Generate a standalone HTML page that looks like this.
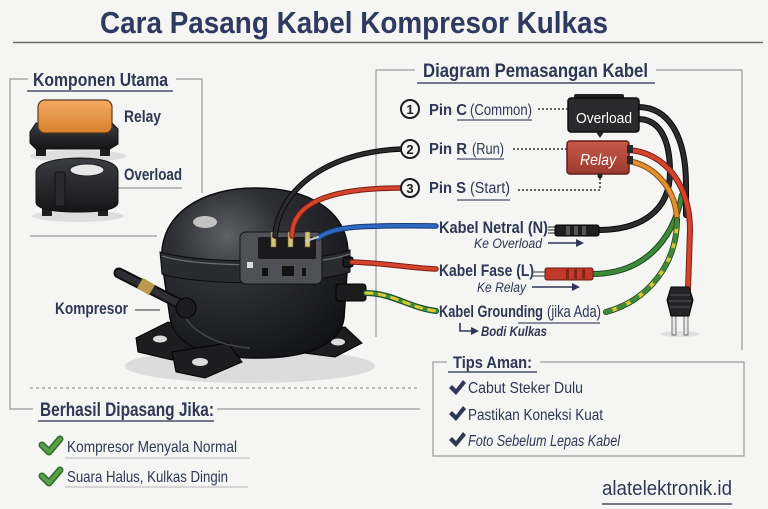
<!DOCTYPE html>
<html><head><meta charset="utf-8">
<style>
html,body{margin:0;padding:0;background:#f5f5f3;}
svg{display:block;}
text{font-family:"Liberation Sans",sans-serif;fill:#2e3754;}
.b{font-weight:bold;}
.i{font-style:italic;}
</style></head><body>
<svg width="768" height="509" viewBox="0 0 768 509" xmlns="http://www.w3.org/2000/svg">
<defs>
<radialGradient id="bodyG" cx="0.35" cy="0.28" r="0.85">
<stop offset="0" stop-color="#5e6066"/><stop offset="0.35" stop-color="#2e2f33"/><stop offset="1" stop-color="#101113"/>
</radialGradient>
<linearGradient id="orG" x1="0" y1="0" x2="0" y2="1"><stop offset="0" stop-color="#f3ac62"/><stop offset="1" stop-color="#d9802c"/></linearGradient>
<linearGradient id="rlG" x1="0" y1="0" x2="0" y2="1"><stop offset="0" stop-color="#c9594a"/><stop offset="1" stop-color="#9c3a2f"/></linearGradient>
<linearGradient id="blkG" x1="0" y1="0" x2="0" y2="1"><stop offset="0" stop-color="#3c3d41"/><stop offset="1" stop-color="#151517"/></linearGradient>
</defs>
<rect width="768" height="509" fill="#f5f5f3"/>

<!-- Title -->
<text x="100" y="33" font-size="31" class="b" textLength="508" lengthAdjust="spacingAndGlyphs" style="fill:#2e3a60">Cara Pasang Kabel Kompresor Kulkas</text>
<path d="M13,42.5 H763" stroke="#6a6a6a" stroke-width="1.6" fill="none"/>

<!-- frame lines -->
<g stroke="#9a9a9a" stroke-width="1.2" fill="none">
<path d="M28,79 H10 V409 H33"/>
<path d="M176,79 H202 V193"/>
<path d="M30,236 H157"/>
<path d="M135,310 H160" stroke="#555"/>
<path d="M30,388 H420" stroke-dasharray="3,3"/>
<path d="M217,409 H420"/>
<path d="M415,70 H376 V337"/>
<path d="M656,70 H742 V350"/>
<path d="M447,362 H433 V456 H744 V362 H540"/>
<path d="M118,188 H182"/>
<path d="M65,458 H250" stroke="#c4c4c4"/>
<path d="M65,487 H248" stroke="#c4c4c4"/>
</g>
<g stroke="#4a5068" stroke-width="1.5" fill="none">
<path d="M27,91 H173"/>
<path d="M38,421 H214"/>
<path d="M417,83 H655"/>
<path d="M448,372 H537"/>
<path d="M602,504 H732"/>
<path d="M457,120 H532" stroke-width="1.2"/>
<path d="M457,159 H504" stroke-width="1.2"/>
<path d="M457,200 H510" stroke-width="1.2"/>
<path d="M518,323 H600" stroke-width="1.2"/>
</g>

<!-- Left box heading -->
<text x="33" y="86" font-size="18" class="b" textLength="135" lengthAdjust="spacingAndGlyphs">Komponen Utama</text>

<!-- Relay illustration -->
<ellipse cx="78" cy="156" rx="48" ry="6" fill="#dedede"/>
<rect x="36" y="142" width="10" height="14" fill="#1e1e20"/>
<rect x="100" y="142" width="10" height="14" fill="#1e1e20"/>
<path d="M30,132 L36,123 L112,123 L118,129 L118,144 L110,149 L36,149 L30,143 Z" fill="url(#blkG)" stroke="#111"/>
<rect x="38" y="100" width="74" height="33" rx="7" fill="url(#orG)" stroke="#5a3a1c" stroke-width="1.2"/>
<text x="124" y="122" font-size="17" class="b" textLength="37" lengthAdjust="spacingAndGlyphs">Relay</text>

<!-- Overload illustration -->
<ellipse cx="78" cy="216" rx="46" ry="6" fill="#dedede"/>
<rect x="42" y="200" width="10" height="16" fill="#1e1e20"/>
<rect x="98" y="200" width="10" height="16" fill="#1e1e20"/>
<path d="M36,172 C36,162 60,158 80,158 C100,158 118,162 118,172 L118,202 C118,210 100,212 78,212 C56,212 36,210 36,202 Z" fill="url(#blkG)" stroke="#111"/>
<ellipse cx="87" cy="170" rx="17" ry="6" fill="#e8e8e8" stroke="#222"/>
<rect x="55" y="172" width="10" height="34" rx="2" fill="#2a2a2c" stroke="#111"/>
<text x="124" y="180" font-size="17" class="b" textLength="58" lengthAdjust="spacingAndGlyphs">Overload</text>

<text x="55" y="314" font-size="17" class="b" textLength="73" lengthAdjust="spacingAndGlyphs">Kompresor</text>

<!-- Compressor -->
<ellipse cx="250" cy="366" rx="125" ry="17" fill="#dcdcdc"/>
<path d="M136,338 L168,322 L205,330 L208,348 L172,360 L138,352 Z" fill="#1d1d1f" stroke="#000"/>
<ellipse cx="160" cy="339" rx="7" ry="3.5" fill="#ddd"/>
<path d="M292,330 L345,327 L362,343 L335,357 L296,352 Z" fill="#1d1d1f" stroke="#000"/>
<ellipse cx="338" cy="342" rx="7" ry="3.5" fill="#ddd"/>
<path d="M162,262 C158,212 205,188 255,188 C305,188 350,208 348,258 L344,318 C340,348 300,358 258,358 C212,358 175,348 170,318 Z" fill="url(#bodyG)" stroke="#0c0c0e" stroke-width="1.5"/>
<path d="M172,352 L228,343 L242,362 L205,378 L176,372 Z" fill="#1d1d1f" stroke="#000"/>
<ellipse cx="200" cy="362" rx="8" ry="4" fill="#ddd"/>
<path d="M160,252 C200,264 310,264 350,250 L350,272 C310,286 200,286 162,274 Z" fill="#2a2b2e" stroke="#0c0c0e"/>
<path d="M162,256 C200,268 310,268 350,254" stroke="#6a6c70" stroke-width="1.2" fill="none"/>
<ellipse cx="205" cy="222" rx="12" ry="6" fill="#d8d8d8" opacity="0.85"/>
<path d="M180,300 C180,325 210,345 250,348" stroke="#55575c" stroke-width="1.5" fill="none" opacity="0.7"/>
<!-- terminal box -->
<rect x="240" y="232" width="82" height="52" rx="6" fill="#505156" stroke="#111"/>
<rect x="258" y="237" width="58" height="22" rx="2" fill="#1a1a1c"/>
<rect x="247" y="262" width="6" height="6" fill="#ddd"/>
<rect x="262" y="268" width="6" height="8" fill="#111"/>
<rect x="282" y="266" width="12" height="10" fill="#111"/>
<rect x="302" y="268" width="4" height="8" fill="#111"/>
<rect x="271" y="232" width="5" height="15" fill="#d9c27a" stroke="#6a5a2a" stroke-width="0.6"/>
<rect x="288" y="232" width="5" height="15" fill="#d9c27a" stroke="#6a5a2a" stroke-width="0.6"/>
<rect x="305" y="232" width="5" height="15" fill="#d9c27a" stroke="#6a5a2a" stroke-width="0.6"/>
<!-- tube -->
<path d="M119,273 L186,307" stroke="#0e0e10" stroke-width="11" stroke-linecap="round"/>
<path d="M119,273 L186,307" stroke="#2e2f33" stroke-width="7" stroke-linecap="round"/>
<path d="M140,283 L152,290" stroke="#b89a4a" stroke-width="12"/>
<circle cx="186" cy="308" r="10" fill="#1c1c1e" stroke="#000"/>
<!-- right nozzle -->
<rect x="336" y="284" width="30" height="17" rx="3" fill="#1c1c1e" stroke="#000"/>
<rect x="343" y="257" width="10" height="10" rx="2" fill="#1c1c1e" stroke="#000"/>

<!-- Left wires -->
<g fill="none" stroke-linecap="round">
<path d="M275,236 C278,195 320,152 402,149" stroke="#0a0a0a" stroke-width="5.5"/>
<path d="M275,236 C278,195 320,152 402,149" stroke="#2c2c2e" stroke-width="3.5"/>
<path d="M292,236 C292,205 325,188 401,188" stroke="#7a1e14" stroke-width="5.5"/>
<path d="M292,236 C292,205 325,188 401,188" stroke="#d6442e" stroke-width="3.5"/>
<path d="M318,238 C335,226 360,225 436,226" stroke="#163a7a" stroke-width="5.5"/>
<path d="M318,238 C335,226 360,225 436,226" stroke="#2f68c0" stroke-width="3.5"/>
<path d="M306,241 L318,237" stroke="#c8c8c8" stroke-width="2"/>
<path d="M352,262 C385,263 410,268 436,269" stroke="#7a1e14" stroke-width="5.5"/>
<path d="M352,262 C385,263 410,268 436,269" stroke="#d6442e" stroke-width="3.5"/>
<path d="M366,293 C392,293 410,308 436,311" stroke="#1e4a1e" stroke-width="6"/>
<path d="M366,293 C392,293 410,308 436,311" stroke="#3d8a3a" stroke-width="4"/>
<path d="M366,293 C392,293 410,308 436,311" stroke="#dcc83a" stroke-width="3" stroke-dasharray="6,7"/>
</g>

<!-- Right wires -->
<g fill="none" stroke-linecap="round">
<path d="M638,107 C668,107 686,135 686,185 L686,215" stroke="#0a0a0a" stroke-width="6"/>
<path d="M638,107 C668,107 686,135 686,185 L686,215" stroke="#2c2c2e" stroke-width="4"/>
<path d="M638,119 C660,119 670,140 670,172 C670,212 640,230 598,230" stroke="#0a0a0a" stroke-width="6"/>
<path d="M638,119 C660,119 670,140 670,172 C670,212 640,230 598,230" stroke="#2c2c2e" stroke-width="4"/>
<path d="M592,274 C640,274 672,245 682,195" stroke="#1e4a1e" stroke-width="6"/>
<path d="M592,274 C640,274 672,245 682,195" stroke="#3d8a3a" stroke-width="4"/>
<path d="M628,161 C655,165 677,190 677,222" stroke="#8a4a10" stroke-width="6"/>
<path d="M628,161 C655,165 677,190 677,222" stroke="#e0902e" stroke-width="4"/>
<path d="M677,220 C677,262 650,300 606,312" stroke="#1e4a1e" stroke-width="6"/>
<path d="M677,220 C677,262 650,300 606,312" stroke="#dcc83a" stroke-width="4"/>
<path d="M677,220 C677,262 650,300 606,312" stroke="#3d8a3a" stroke-width="4" stroke-dasharray="7,8"/>
<path d="M628,150 C665,152 690,185 690,230 L688,290" stroke="#7a1e14" stroke-width="6"/>
<path d="M628,150 C665,152 690,185 690,230 L688,290" stroke="#d6442e" stroke-width="4"/>
</g>
<!-- Netral connector -->
<g stroke="#222" stroke-width="1">
<path d="M548,227 H556 M548,230 H556 M548,233 H556" />
</g>
<rect x="555" y="225" width="44" height="11" rx="2" fill="#1e1e20" stroke="#000"/>
<rect x="566" y="226" width="4" height="9" fill="#555"/>
<rect x="574" y="226" width="4" height="9" fill="#555"/>
<rect x="582" y="226" width="4" height="9" fill="#555"/>
<!-- Fase connector -->
<path d="M533,272 H546 M533,276 H546" stroke="#777" stroke-width="1.4"/>
<rect x="545" y="268" width="48" height="12" rx="2" fill="#c0392b" stroke="#6a1a12"/>
<rect x="566" y="269" width="3" height="10" fill="#8a2418"/>
<rect x="574" y="269" width="3" height="10" fill="#8a2418"/>
<rect x="582" y="269" width="3" height="10" fill="#8a2418"/>
<!-- plug -->
<ellipse cx="680" cy="334" rx="20" ry="3" fill="#e0e0e0"/>
<rect x="672" y="314" width="4" height="21" fill="#e6e6e6" stroke="#555" stroke-width="0.8"/>
<rect x="684" y="314" width="4" height="21" fill="#e6e6e6" stroke="#555" stroke-width="0.8"/>
<path d="M671,287 L689,287 L693,300 L689,316 L671,316 L667,300 Z" fill="#242426" stroke="#000"/>
<path d="M670,295 H690 M669,301 H691 M670,307 H690" stroke="#555" stroke-width="1"/>

<!-- Diagram heading -->
<text x="423" y="77" font-size="19" class="b" textLength="225" lengthAdjust="spacingAndGlyphs">Diagram Pemasangan Kabel</text>

<!-- Pins -->
<g fill="#f5f5f3" stroke="#1e1e1e" stroke-width="2">
<circle cx="410" cy="109" r="9"/>
<circle cx="410" cy="149" r="9"/>
<circle cx="410" cy="188" r="9"/>
</g>
<text x="410" y="114" font-size="13" class="b" text-anchor="middle" style="fill:#1e1e1e">1</text>
<text x="410" y="154" font-size="13" class="b" text-anchor="middle" style="fill:#1e1e1e">2</text>
<text x="410" y="193" font-size="13" class="b" text-anchor="middle" style="fill:#1e1e1e">3</text>
<text x="429" y="115" font-size="16" class="b" textLength="38" lengthAdjust="spacingAndGlyphs">Pin C</text>
<text x="470" y="115" font-size="16" textLength="62" lengthAdjust="spacingAndGlyphs">(Common)</text>
<text x="429" y="154" font-size="16" class="b" textLength="38" lengthAdjust="spacingAndGlyphs">Pin R</text>
<text x="472" y="154" font-size="16" textLength="32" lengthAdjust="spacingAndGlyphs">(Run)</text>
<text x="429" y="193" font-size="16" class="b" textLength="37" lengthAdjust="spacingAndGlyphs">Pin S</text>
<text x="470" y="193" font-size="16" textLength="40" lengthAdjust="spacingAndGlyphs">(Start)</text>
<g stroke="#333" stroke-width="1.5" fill="none" stroke-dasharray="2,2">
<path d="M538,109 H569"/>
<path d="M513,149 H567"/>
<path d="M518,190 H600 V175"/>
</g>

<!-- Overload box -->
<rect x="574" y="94" width="50" height="6" rx="2" fill="#222"/>
<rect x="568" y="98" width="71" height="34" rx="3" fill="#2a2a2c" stroke="#0e0e0e" stroke-width="1.5"/>
<path d="M596,132 L604,132 L600,138 Z" fill="#222"/>
<text x="576" y="123" font-size="15" textLength="56" lengthAdjust="spacingAndGlyphs" style="fill:#ffffff">Overload</text>
<!-- Relay box -->
<rect x="567" y="141" width="62" height="33" rx="3" fill="url(#rlG)" stroke="#5e2018" stroke-width="1.5"/>
<rect x="627" y="145" width="6" height="8" fill="#2a2a2a"/>
<rect x="627" y="156" width="6" height="8" fill="#2a2a2a"/>
<circle cx="600" cy="176" r="2.5" fill="#222"/>
<text x="580" y="165" font-size="16" class="i" textLength="36" lengthAdjust="spacingAndGlyphs" style="fill:#ffffff">Relay</text>

<!-- Cable labels -->
<text x="439" y="233" font-size="16.5" class="b" textLength="109" lengthAdjust="spacingAndGlyphs">Kabel Netral (N)</text>
<text x="474" y="248" font-size="13.5" class="i" textLength="68" lengthAdjust="spacingAndGlyphs">Ke Overload</text>
<text x="439" y="276" font-size="16.5" class="b" textLength="95" lengthAdjust="spacingAndGlyphs">Kabel Fase (L)</text>
<text x="477" y="292" font-size="13.5" class="i" textLength="49" lengthAdjust="spacingAndGlyphs">Ke Relay</text>
<text x="439" y="317" font-size="16.5" class="b" textLength="104" lengthAdjust="spacingAndGlyphs">Kabel Grounding</text>
<text x="547" y="317" font-size="16.5" textLength="54" lengthAdjust="spacingAndGlyphs">(jika Ada)</text>
<text x="481" y="336" font-size="13.5" class="i b" textLength="66" lengthAdjust="spacingAndGlyphs">Bodi Kulkas</text>
<g stroke="#2e3754" stroke-width="1.6" fill="none">
<path d="M548,243 H578"/>
<path d="M532,287 H574"/>
<path d="M460,323 V331 H472"/>
</g>
<g fill="#2e3754">
<path d="M584,243 L576,239 L576,247 Z"/>
<path d="M580,287 L572,283 L572,291 Z"/>
<path d="M479,331 L471,327 L471,335 Z"/>
</g>

<!-- Tips -->
<text x="453" y="368" font-size="17" class="b" textLength="79" lengthAdjust="spacingAndGlyphs">Tips Aman:</text>
<g fill="#2e3754">
<path d="M449,388 L452,385 L456,389 L463,380 L466,383 L456,395 Z"/>
<path d="M449,414 L452,411 L456,415 L463,406 L466,409 L456,421 Z"/>
<path d="M449,440 L452,437 L456,441 L463,432 L466,435 L456,447 Z"/>
</g>
<text x="468" y="393" font-size="15.5" textLength="115" lengthAdjust="spacingAndGlyphs">Cabut Steker Dulu</text>
<text x="468" y="420" font-size="15.5" textLength="135" lengthAdjust="spacingAndGlyphs">Pastikan Koneksi Kuat</text>
<text x="468" y="446" font-size="15.5" class="i" textLength="152" lengthAdjust="spacingAndGlyphs">Foto Sebelum Lepas Kabel</text>

<!-- Berhasil -->
<text x="40" y="416" font-size="19" class="b" textLength="174" lengthAdjust="spacingAndGlyphs">Berhasil Dipasang Jika:</text>
<g fill="none" stroke-linecap="round" stroke-linejoin="round">
<path d="M42,445 L49,452 L60,439" stroke="#2f6a2a" stroke-width="7"/>
<path d="M42,445 L49,452 L60,439" stroke="#5aa04a" stroke-width="4"/>
<path d="M42,476 L49,483 L60,470" stroke="#2f6a2a" stroke-width="7"/>
<path d="M42,476 L49,483 L60,470" stroke="#5aa04a" stroke-width="4"/>
</g>
<text x="67" y="452" font-size="16" textLength="170" lengthAdjust="spacingAndGlyphs">Kompresor Menyala Normal</text>
<text x="67" y="482" font-size="16" textLength="161" lengthAdjust="spacingAndGlyphs">Suara Halus, Kulkas Dingin</text>

<!-- Footer -->
<text x="602" y="495" font-size="20" textLength="130" lengthAdjust="spacingAndGlyphs">alatelektronik.id</text>
</svg>
</body></html>
